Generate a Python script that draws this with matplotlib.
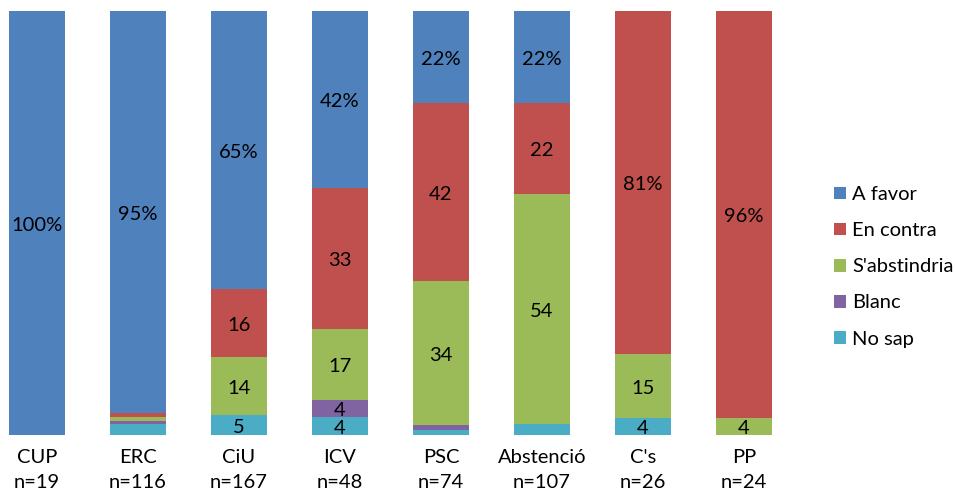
import matplotlib
matplotlib.use('Agg')
import matplotlib.pyplot as plt

# Data (percent of each group).
categories = ['CUP', 'ERC', 'CiU', 'ICV', 'PSC', 'Abstenció', "C's", 'PP']
n_sizes = [19, 116, 167, 48, 74, 107, 26, 24]

no_sap = [0, 2.5, 4.7, 4.2, 1.2, 2.6, 4.0, 0]
blanc = [0, 0.9, 0, 4.0, 1.2, 0, 0, 0]
abstindria = [0, 0.9, 13.7, 16.7, 33.9, 54.2, 15.1, 4.1]
en_contra = [0, 0.9, 16.0, 33.3, 42.0, 21.5, 80.9, 95.9]
a_favor = [100, 94.8, 65.6, 41.7, 21.7, 21.7, 0, 0]

no_sap_lbl = ['', '', '5', '4', '', '', '4', '']
blanc_lbl = ['', '', '', '4', '', '', '', '']
abstindria_lbl = ['', '', '14', '17', '34', '54', '15', '4']
en_contra_lbl = ['', '', '16', '33', '42', '22', '81%', '96%']
a_favor_lbl = ['100%', '95%', '65%', '42%', '22%', '22%', '', '']

series = [
    ('No sap', no_sap, no_sap_lbl, '#4BACC6'),
    ('Blanc', blanc, blanc_lbl, '#8064A2'),
    ("S'abstindria", abstindria, abstindria_lbl, '#9BBB59'),
    ('En contra', en_contra, en_contra_lbl, '#C0504D'),
    ('A favor', a_favor, a_favor_lbl, '#4F81BD'),
]

plt.rcParams['font.family'] = ['Lato', 'DejaVu Sans']
plt.rcParams['font.size'] = 14.5

fig = plt.figure(figsize=(9.55, 4.9), dpi=100)
ax = fig.add_axes([0, 55 / 490, 808 / 955, 424 / 490])

x = list(range(len(categories)))
bottom = [0] * len(categories)
handles = {}
for name, vals, lbls, color in series:
    bars = ax.bar(x, vals, width=0.55, bottom=bottom, color=color,
                  label=name, linewidth=0)
    handles[name] = bars
    for xi, b, v, t in zip(x, bottom, vals, lbls):
        if t:
            ax.text(xi, b + v / 2 - 0.5, t, ha='center', va='center',
                    color='black')
    bottom = [b + v for b, v in zip(bottom, vals)]

ax.set_xlim(-37 / 101, 7 + 64 / 101)
ax.set_ylim(0, 100)
ax.set_xticks(x)
ax.set_xticklabels([f'{c}\nn={n}' for c, n in zip(categories, n_sizes)],
                   linespacing=1.55)
ax.tick_params(axis='x', length=0, pad=10)
ax.set_yticks([])
for s in ax.spines.values():
    s.set_visible(False)

order = ['A favor', 'En contra', "S'abstindria", 'Blanc', 'No sap']
fig.legend([handles[k] for k in order], order,
           loc='upper left', bbox_to_anchor=(826 / 955, 1 - 178 / 490),
           frameon=False, handlelength=0.6, handleheight=0.6,
           handletextpad=0.3, labelspacing=0.95, borderaxespad=0)

fig.savefig('out.png', dpi=100)
